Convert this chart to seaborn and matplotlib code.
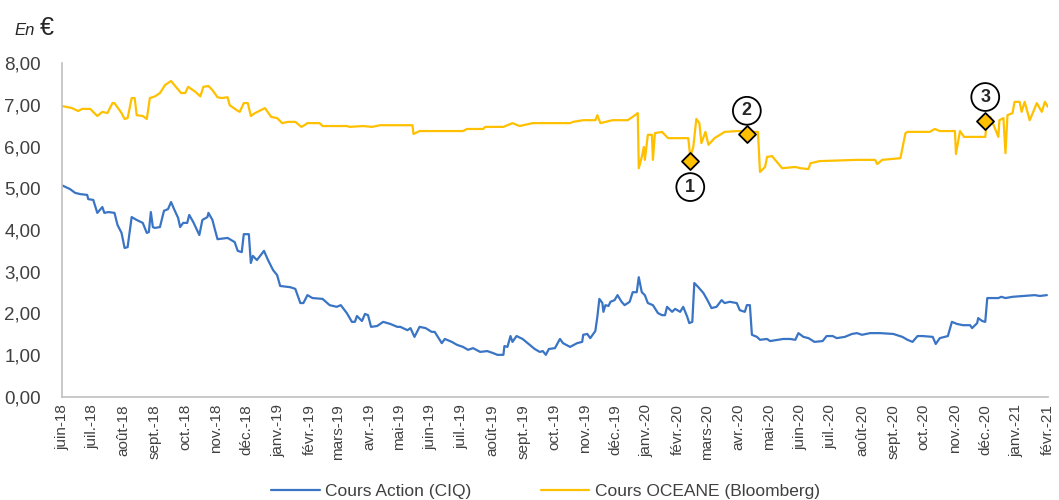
import matplotlib
matplotlib.use("Agg")
import matplotlib.pyplot as plt
import numpy as np
import pandas as pd
import seaborn as sns

# jours depuis le 1er juin 2018
start = pd.Timestamp("2018-06-01")

oceane_days = [0, 10, 16, 20, 28, 35, 40, 45, 50, 52, 59, 62, 65, 69, 72, 74, 80, 84, 87, 92,
               97, 102, 108, 112, 118, 122, 125, 132, 137, 140, 145, 149, 154, 158, 164, 166,
               173, 176, 180, 184, 187, 191, 201, 207, 213, 218, 224, 231, 237, 240, 243, 255,
               258, 282, 285, 298, 307, 315, 347, 348, 354, 397, 401, 417, 419, 437, 446, 453,
               466, 483, 503, 506, 516, 528, 530, 533, 545, 560, 565, 570, 571, 574, 576, 577,
               580, 584, 585, 587, 594, 600, 620, 622, 625, 628, 631, 633, 637, 640, 646, 656,
               669, 683, 689, 691, 696, 698, 703, 706, 713, 726, 731, 739, 741, 750, 787, 805,
               807, 812, 830, 835, 837, 859, 864, 869, 884, 885, 889, 893, 914, 915, 919, 927,
               928, 932, 934, 936, 941, 943, 948, 950, 953, 958, 961, 965, 970, 973, 976]
oceane_vals = [6.97, 6.92, 6.85, 6.90, 6.90, 6.73, 6.83, 6.80, 7.04, 7.04, 6.80, 6.66, 6.68, 7.16,
               7.16, 6.75, 6.73, 6.66, 7.16, 7.20, 7.28, 7.47, 7.57, 7.45, 7.28, 7.28, 7.43, 7.31,
               7.20, 7.43, 7.45, 7.35, 7.18, 7.16, 7.18, 6.99, 6.87, 6.83, 7.04, 7.04, 6.73, 6.80,
               6.92, 6.71, 6.68, 6.56, 6.59, 6.59, 6.47, 6.51, 6.56, 6.56, 6.49, 6.49, 6.47, 6.49,
               6.47, 6.51, 6.51, 6.30, 6.37, 6.37, 6.42, 6.42, 6.47, 6.47, 6.56, 6.49, 6.56, 6.56,
               6.56, 6.59, 6.63, 6.63, 6.75, 6.56, 6.63, 6.63, 6.71, 6.80, 5.48, 5.75, 5.99, 5.68,
               6.28, 6.28, 5.68, 6.32, 6.35, 6.20, 6.20, 5.75, 5.99, 6.66, 6.56, 6.08, 6.35, 6.04,
               6.20, 6.35, 6.37, 6.35, 6.35, 5.39, 5.51, 5.75, 5.77, 5.68, 5.48, 5.51, 5.48, 5.46,
               5.60, 5.65, 5.68, 5.68, 5.58, 5.68, 5.72, 6.32, 6.35, 6.35, 6.42, 6.37, 6.37, 5.82,
               6.37, 6.23, 6.23, 6.47, 6.71, 6.23, 6.63, 6.68, 5.84, 6.75, 6.80, 7.07, 7.07, 6.83,
               7.07, 6.63, 6.80, 7.04, 6.83, 7.07, 6.95]

action_days = [0, 8, 13, 18, 25, 26, 31, 35, 40, 42, 46, 52, 55, 59, 62, 65, 69, 74, 80, 84, 86,
               88, 90, 92, 97, 101, 105, 108, 111, 115, 117, 120, 124, 126, 130, 136, 139, 144,
               145, 149, 151, 154, 164, 171, 174, 178, 180, 185, 187, 189, 193, 200, 204, 209,
               213, 216, 226, 231, 236, 239, 243, 248, 258, 265, 272, 276, 282, 287, 290, 292,
               297, 300, 303, 306, 312, 318, 325, 332, 335, 342, 345, 349, 354, 360, 366, 369,
               376, 379, 386, 391, 397, 402, 407, 414, 421, 427, 431, 437, 438, 441, 444, 446,
               450, 456, 463, 468, 473, 476, 479, 482, 488, 493, 496, 503, 510, 515, 516, 520,
               523, 528, 530, 532, 535, 536, 538, 541, 543, 547, 550, 554, 557, 562, 565, 569,
               571, 574, 577, 580, 585, 590, 594, 597, 599, 604, 607, 612, 615, 619, 621, 624,
               626, 630, 635, 639, 643, 648, 653, 656, 661, 668, 671, 676, 678, 681, 683, 688,
               691, 698, 701, 714, 721, 726, 729, 734, 739, 745, 753, 757, 763, 767, 775, 782,
               787, 792, 800, 810, 823, 832, 837, 842, 847, 852, 862, 865, 869, 874, 877, 881,
               886, 892, 899, 901, 906, 907, 911, 914, 916, 927, 930, 934, 941, 963, 968, 975]
action_vals = [5.07, 4.98, 4.89, 4.86, 4.84, 4.74, 4.72, 4.41, 4.55, 4.41, 4.43, 4.41, 4.12, 3.93,
               3.57, 3.59, 4.31, 4.24, 4.17, 3.93, 3.95, 4.43, 4.07, 4.05, 4.07, 4.46, 4.50, 4.67,
               4.50, 4.29, 4.07, 4.17, 4.17, 4.36, 4.19, 3.88, 4.24, 4.31, 4.41, 4.24, 4.05, 3.78,
               3.81, 3.71, 3.50, 3.47, 3.90, 3.90, 3.21, 3.38, 3.28, 3.50, 3.28, 3.04, 2.92, 2.66,
               2.63, 2.59, 2.25, 2.25, 2.44, 2.37, 2.35, 2.20, 2.16, 2.20, 2.01, 1.80, 1.80, 1.94,
               1.82, 1.99, 1.96, 1.68, 1.70, 1.80, 1.75, 1.68, 1.68, 1.60, 1.65, 1.44, 1.68, 1.65,
               1.56, 1.56, 1.29, 1.39, 1.32, 1.25, 1.20, 1.13, 1.17, 1.08, 1.10, 1.05, 1.01, 1.01,
               1.22, 1.20, 1.46, 1.32, 1.46, 1.39, 1.25, 1.15, 1.08, 1.10, 1.01, 1.15, 1.17, 1.39,
               1.29, 1.20, 1.29, 1.32, 1.49, 1.51, 1.41, 1.58, 1.92, 2.35, 2.25, 2.04, 2.20, 2.18,
               2.28, 2.32, 2.44, 2.28, 2.20, 2.28, 2.51, 2.51, 2.87, 2.51, 2.44, 2.25, 2.20, 2.01,
               1.96, 1.96, 2.16, 2.04, 2.11, 2.04, 2.16, 1.92, 1.77, 1.80, 2.73, 2.63, 2.49, 2.32,
               2.13, 2.16, 2.32, 2.25, 2.28, 2.25, 2.08, 2.04, 2.20, 2.20, 1.49, 1.44, 1.37, 1.39,
               1.34, 1.39, 1.39, 1.37, 1.53, 1.44, 1.41, 1.32, 1.34, 1.46, 1.46, 1.41, 1.44, 1.51,
               1.53, 1.49, 1.53, 1.53, 1.51, 1.44, 1.37, 1.32, 1.46, 1.46, 1.44, 1.27, 1.41, 1.44,
               1.46, 1.80, 1.75, 1.72, 1.72, 1.65, 1.77, 1.89, 1.82, 1.80, 2.37, 2.37, 2.40, 2.37,
               2.40, 2.44, 2.42, 2.44]

event_days = [622, 678, 914]
event_vals = [5.66, 6.29, 6.62]
event_labels = ["1", "2", "3"]
event_offsets = [-19, 17, 17]  # label above / below the diamond, in points

month_labels = ["juin-18", "juil.-18", "août-18", "sept.-18", "oct.-18", "nov.-18", "déc.-18",
                "janv.-19", "févr.-19", "mars-19", "avr.-19", "mai-19", "juin-19", "juil.-19",
                "août-19", "sept.-19", "oct.-19", "nov.-19", "déc.-19", "janv.-20", "févr.-20",
                "mars-20", "avr.-20", "mai-20", "juin-20", "juil.-20", "août-20", "sept.-20",
                "oct.-20", "nov.-20", "déc.-20", "janv.-21", "févr.-21"]

BLUE = "#3A74C4"
GOLD = "#FFC000"
GREY = "#BFBFBF"

sns.set_style("white")
plt.rcParams["font.family"] = ["Liberation Sans", "DejaVu Sans"]

oceane = pd.DataFrame({"date": start + pd.to_timedelta(oceane_days, unit="D"), "cours": oceane_vals})
action = pd.DataFrame({"date": start + pd.to_timedelta(action_days, unit="D"), "cours": action_vals})
events = pd.DataFrame({"date": start + pd.to_timedelta(event_days, unit="D"), "cours": event_vals})

fig = plt.figure(figsize=(10.59, 5.0), dpi=100)
ax = fig.add_axes([0.0585, 0.206, 0.931, 0.668])

sns.lineplot(data=action, x="date", y="cours", ax=ax, color=BLUE, linewidth=1.6,
             estimator=None, sort=False, label="Cours Action (CIQ)")
sns.lineplot(data=oceane, x="date", y="cours", ax=ax, color=GOLD, linewidth=1.6,
             estimator=None, sort=False, label="Cours OCEANE (Bloomberg)")
sns.scatterplot(data=events, x="date", y="cours", ax=ax, marker="D", s=75, color=GOLD,
                edgecolor="black", linewidth=1.3, zorder=5, legend=False)

for d, v, lab, off in zip(events["date"], event_vals, event_labels, event_offsets):
    ax.annotate(lab, xy=(d, v), xytext=(0, off), textcoords="offset points",
                ha="center", va="center", fontsize=13, fontweight="bold", zorder=6,
                bbox=dict(boxstyle="circle,pad=0.3", fc="white", ec="black", lw=1.3))

ticks = pd.date_range("2018-06-01", "2021-02-01", freq="MS")
ax.set_xlim(ticks[0], ticks[-1])
ax.set_xticks(ticks)
ax.set_xticklabels(month_labels, rotation=90, fontsize=11, color="#404040")
ax.set_ylim(0, 8)
ax.set_yticks(np.arange(0, 9, 1))
ax.set_yticklabels([f"{v:.2f}".replace(".", ",") for v in range(9)], fontsize=13.5, color="#404040")
ax.set_xlabel("")
ax.set_ylabel("")
ax.tick_params(axis="x", direction="out", length=4, width=1, color=GREY, pad=1)
ax.tick_params(axis="y", direction="out", length=6, width=1, color=GREY, pad=9)

for side in ["top", "right"]:
    ax.spines[side].set_visible(False)
for side in ["left", "bottom"]:
    ax.spines[side].set_color(GREY)
    ax.spines[side].set_linewidth(1.2)

ax.get_legend().remove()
handles, labels = ax.get_legend_handles_labels()
fig.legend(handles, labels, loc="lower center", bbox_to_anchor=(0.515, -0.03), ncol=2,
           frameon=False, fontsize=12.5, handlelength=2.8, columnspacing=4.0,
           handletextpad=0.3, labelcolor="#404040")

fig.text(0.014, 0.93, "En", fontsize=12, style="italic", va="baseline")
fig.text(0.038, 0.93, "€", fontsize=18, va="baseline")

fig.savefig("out.png", dpi=100)
